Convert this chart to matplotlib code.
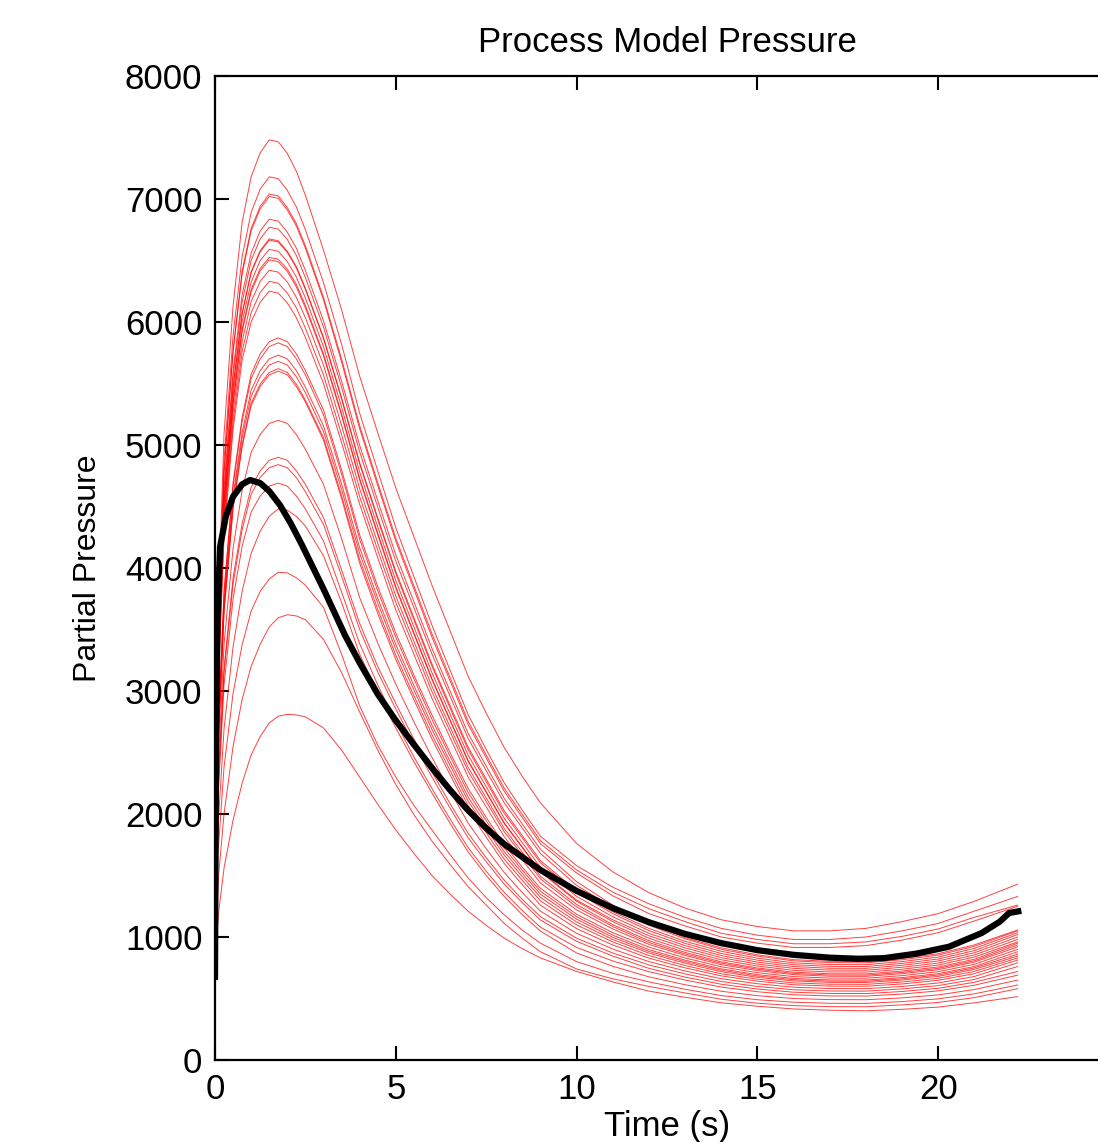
import matplotlib.pyplot as plt

plt.rcParams["font.family"] = ["Liberation Sans", "DejaVu Sans"]

# time grid of the red model runs (s)
t_runs = [0, 0.1, 0.25, 0.5, 0.75, 1.0, 1.25, 1.5, 1.75, 2.0, 2.25, 2.5, 3,
          3.5, 4, 4.5, 5, 5.5, 6, 6.5, 7, 7.5, 8, 8.5, 9, 10, 11, 12, 13, 14,
          15, 16, 17, 18, 19, 20, 21, 22.2]

# runs with the highest peaks
high_runs = [
    [1500, 3740, 5090, 6130, 6810, 7180, 7375, 7480, 7465, 7370, 7225, 7030, 6585, 6100, 5560, 5100, 4650, 4255, 3860, 3490, 3120, 2820, 2540, 2305, 2090, 1760, 1530, 1360, 1235, 1140, 1085, 1050, 1050, 1070, 1125, 1190, 1290, 1430],
    [2200, 3590, 4880, 5890, 6530, 6890, 7080, 7180, 7165, 7070, 6935, 6750, 6320, 5820, 5260, 4790, 4328, 3930, 3535, 3170, 2808, 2525, 2253, 2030, 1819, 1580, 1405, 1270, 1160, 1070, 1015, 980, 980, 1000, 1050, 1110, 1210, 1330],
    [1000, 3520, 4790, 5770, 6410, 6760, 6940, 7040, 7025, 6930, 6800, 6620, 6200, 5700, 5158, 4695, 4243, 3855, 3466, 3110, 2754, 2480, 2209, 1995, 1784, 1545, 1365, 1230, 1125, 1030, 980, 945, 945, 960, 1005, 1065, 1160, 1260],
    [1800, 3510, 4770, 5760, 6390, 6740, 6920, 7020, 7005, 6910, 6780, 6600, 6180, 5675, 5133, 4670, 4218, 3828, 3437, 3083, 2728, 2456, 2184, 1970, 1759, 1520, 1335, 1190, 1090, 1000, 950, 915, 915, 930, 975, 1035, 1130, 1250],
    [900, 3420, 4650, 5600, 6220, 6560, 6740, 6835, 6820, 6730, 6600, 6420, 6010, 5520, 4998, 4548, 4107, 3727, 3347, 3000, 2656, 2390, 2126, 1918, 1713, 1450, 1260, 1110, 995, 912, 855, 816, 802, 800, 825, 864, 936, 1057],
    [2600, 3385, 4600, 5550, 6160, 6500, 6675, 6770, 6755, 6670, 6540, 6360, 5960, 5470, 4946, 4495, 4055, 3678, 3301, 2958, 2614, 2352, 2090, 1885, 1679, 1420, 1240, 1095, 985, 900, 845, 806, 792, 790, 815, 853, 924, 1050],
    [1200, 3340, 4540, 5470, 6070, 6410, 6580, 6675, 6660, 6575, 6450, 6275, 5875, 5385, 4858, 4410, 3973, 3597, 3220, 2882, 2544, 2285, 2025, 1823, 1622, 1375, 1205, 1070, 965, 884, 828, 790, 776, 775, 800, 837, 907, 1035],
    [3000, 3330, 4530, 5465, 6065, 6400, 6570, 6665, 6650, 6565, 6440, 6265, 5865, 5375, 4846, 4395, 3955, 3578, 3202, 2862, 2523, 2264, 2005, 1804, 1603, 1360, 1190, 1052, 948, 866, 812, 775, 761, 760, 785, 821, 889, 1020],
    [1700, 3295, 4480, 5400, 6000, 6325, 6500, 6590, 6575, 6490, 6365, 6195, 5800, 5310, 4782, 4335, 3898, 3523, 3149, 2814, 2479, 2222, 1965, 1766, 1567, 1330, 1165, 1030, 930, 849, 796, 760, 746, 745, 770, 805, 872, 1000],
    [800, 3260, 4440, 5350, 5940, 6265, 6435, 6525, 6510, 6430, 6305, 6135, 5740, 5255, 4730, 4284, 3848, 3475, 3101, 2768, 2435, 2182, 1928, 1731, 1534, 1300, 1140, 1010, 912, 832, 780, 745, 731, 730, 754, 788, 854, 980],
    [2300, 3250, 4425, 5335, 5920, 6245, 6415, 6505, 6490, 6410, 6285, 6115, 5725, 5240, 4716, 4271, 3836, 3464, 3092, 2760, 2428, 2175, 1922, 1726, 1530, 1290, 1125, 990, 892, 815, 764, 729, 716, 715, 738, 772, 837, 960],
    [1400, 3210, 4365, 5265, 5840, 6165, 6330, 6420, 6405, 6325, 6200, 6035, 5650, 5160, 4645, 4204, 3773, 3405, 3038, 2709, 2380, 2131, 1882, 1688, 1494, 1265, 1100, 970, 875, 798, 748, 714, 701, 700, 723, 756, 819, 950],
    [650, 3165, 4305, 5190, 5760, 6075, 6240, 6330, 6315, 6235, 6115, 5950, 5570, 5085, 4581, 4146, 3721, 3358, 2995, 2671, 2347, 2101, 1855, 1664, 1473, 1245, 1085, 955, 862, 787, 738, 704, 691, 690, 712, 745, 807, 935],
    [2000, 3125, 4250, 5125, 5690, 6000, 6160, 6250, 6235, 6155, 6035, 5875, 5500, 5020, 4519, 4084, 3659, 3300, 2941, 2621, 2301, 2058, 1815, 1627, 1439, 1220, 1065, 940, 850, 775, 727, 694, 681, 680, 702, 734, 796, 920],
]

# runs with middle peaks
mid_runs = [
    [1100, 2760, 3815, 4695, 5225, 5575, 5740, 5840, 5870, 5840, 5740, 5605, 5285, 4800, 4270, 3850, 3472, 3130, 2805, 2500, 2208, 1973, 1750, 1567, 1396, 1185, 1035, 918, 830, 758, 710, 678, 666, 665, 686, 718, 778, 900],
    [2300, 2740, 3790, 4665, 5190, 5540, 5700, 5800, 5830, 5800, 5700, 5570, 5245, 4765, 4235, 3815, 3437, 3100, 2770, 2470, 2176, 1945, 1722, 1543, 1372, 1165, 1015, 897, 812, 741, 694, 663, 651, 650, 670, 702, 760, 880],
    [1500, 2695, 3725, 4585, 5100, 5445, 5605, 5700, 5730, 5700, 5605, 5470, 5155, 4685, 4165, 3755, 3379, 3045, 2723, 2428, 2138, 1912, 1693, 1517, 1348, 1145, 998, 883, 800, 730, 683, 653, 641, 640, 660, 691, 749, 860],
    [700, 2670, 3690, 4545, 5055, 5395, 5555, 5650, 5680, 5650, 5555, 5425, 5110, 4640, 4120, 3715, 3339, 3008, 2688, 2395, 2106, 1882, 1665, 1490, 1322, 1122, 980, 869, 787, 718, 672, 643, 631, 630, 650, 680, 737, 845],
    [2400, 2640, 3655, 4495, 5000, 5340, 5495, 5590, 5620, 5590, 5495, 5365, 5060, 4590, 4070, 3665, 3290, 2963, 2645, 2355, 2070, 1848, 1632, 1460, 1294, 1098, 960, 849, 768, 701, 657, 627, 616, 615, 634, 664, 720, 830],
    [1000, 2630, 3640, 4480, 4985, 5320, 5475, 5570, 5600, 5570, 5475, 5350, 5040, 4565, 4040, 3630, 3257, 2930, 2610, 2320, 2034, 1812, 1597, 1425, 1259, 1068, 935, 828, 749, 684, 641, 612, 601, 600, 618, 648, 702, 813],
    [1900, 2445, 3380, 4160, 4630, 4940, 5085, 5175, 5200, 5175, 5085, 4965, 4680, 4240, 3760, 3390, 3056, 2750, 2460, 2188, 1927, 1718, 1524, 1360, 1210, 1030, 902, 800, 724, 661, 620, 592, 581, 580, 598, 626, 679, 790],
    [900, 2305, 3185, 3920, 4360, 4655, 4790, 4875, 4900, 4875, 4790, 4680, 4410, 3985, 3550, 3200, 2898, 2610, 2341, 2085, 1843, 1645, 1461, 1305, 1165, 990, 870, 773, 700, 638, 598, 571, 561, 560, 578, 605, 655, 760],
    [1900, 2275, 3145, 3870, 4310, 4600, 4735, 4815, 4840, 4815, 4735, 4620, 4355, 3935, 3500, 3155, 2853, 2570, 2300, 2048, 1806, 1612, 1430, 1278, 1138, 965, 845, 745, 674, 616, 577, 551, 541, 540, 557, 583, 632, 720],
    [1300, 2205, 3050, 3750, 4175, 4455, 4585, 4665, 4690, 4665, 4585, 4480, 4220, 3805, 3385, 3050, 2745, 2465, 2207, 1960, 1727, 1535, 1362, 1215, 1080, 915, 805, 718, 650, 593, 555, 530, 521, 520, 536, 562, 608, 690],
]

# runs with the lowest peaks
low_runs = [
    [750, 1970, 2690, 3360, 3810, 4120, 4300, 4420, 4480, 4470, 4420, 4340, 4100, 3720, 3300, 2980, 2700, 2425, 2171, 1925, 1692, 1500, 1329, 1180, 1048, 870, 762, 676, 612, 559, 523, 500, 491, 490, 505, 529, 573, 650],
    [1600, 1745, 2380, 2980, 3375, 3650, 3810, 3910, 3965, 3960, 3920, 3860, 3680, 3300, 2880, 2560, 2300, 2070, 1870, 1670, 1480, 1320, 1180, 1055, 950, 800, 705, 635, 575, 524, 490, 470, 461, 460, 475, 497, 538, 610],
    [850, 1500, 2000, 2550, 2930, 3200, 3380, 3520, 3595, 3620, 3610, 3580, 3420, 3150, 2830, 2520, 2240, 1995, 1780, 1590, 1410, 1260, 1110, 990, 880, 740, 660, 598, 545, 494, 462, 442, 434, 433, 448, 468, 507, 580],
    [800, 1200, 1560, 1950, 2250, 2480, 2630, 2740, 2795, 2810, 2805, 2790, 2700, 2520, 2300, 2080, 1870, 1680, 1500, 1350, 1210, 1095, 990, 905, 830, 720, 635, 560, 510, 465, 437, 415, 405, 400, 412, 430, 465, 515],
]

# nominal model (black)
t_nominal = [0, 0.03, 0.07, 0.14, 0.3, 0.5, 0.75, 0.97, 1.25, 1.5, 1.8, 2.1,
             2.4, 2.7, 3.0, 3.3, 3.6, 4.0, 4.5, 5.0, 5.5, 6.0, 6.5, 7.0, 7.5,
             8.0, 9, 10, 11, 12, 13, 14, 15, 16, 17, 17.8, 18.5, 19.4, 20.3,
             21.2, 21.7, 21.96, 22.3]
p_nominal = [650, 2600, 3600, 4170, 4420, 4580, 4680, 4715, 4690, 4625, 4510,
             4360, 4190, 4010, 3830, 3640, 3450, 3230, 2975, 2760, 2565, 2375,
             2195, 2030, 1885, 1755, 1545, 1375, 1235, 1120, 1025, 950, 893,
             855, 832, 823, 828, 865, 921, 1032, 1124, 1195, 1213]

fig = plt.figure(figsize=(10.98, 11.42), dpi=100)
ax = fig.add_axes([0.1958, 0.0718, 0.8233, 0.8617])

for run in high_runs + mid_runs + low_runs:
    ax.plot(t_runs, run, color="red", linewidth=0.7, alpha=0.75)
ax.plot(t_nominal, p_nominal, color="black", linewidth=4.5,
        solid_capstyle="butt", solid_joinstyle="round")

ax.set_xlim(0, 25)
ax.set_ylim(0, 8000)
ax.set_xticks([0, 5, 10, 15, 20])
ax.set_yticks(range(0, 8001, 1000))
ax.tick_params(direction="in", length=10, width=1.5, top=True, right=True,
               labelsize=25, pad=9)
for side in ax.spines.values():
    side.set_linewidth(1.6)

ax.set_title("Process Model Pressure", fontsize=25, pad=17)
ax.set_xlabel("Time (s)", fontsize=25, labelpad=3)
ax.set_ylabel("Partial Pressure", fontsize=23, labelpad=16)

fig.savefig("out.png", dpi=100)
